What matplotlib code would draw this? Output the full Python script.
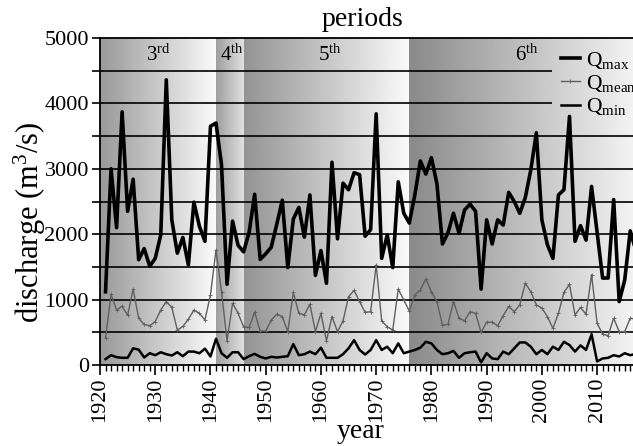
import numpy as np
import matplotlib
matplotlib.use("Agg")
import matplotlib.pyplot as plt

plt.rcParams['font.family'] = ['Liberation Serif', 'DejaVu Serif']
plt.rcParams['mathtext.fontset'] = 'custom'
plt.rcParams['mathtext.rm'] = 'Liberation Serif'
plt.rcParams['mathtext.it'] = 'Liberation Serif:italic'

years = list(range(1921, 2018))

q_max = [1120, 3000, 2100, 3870, 2350, 2840, 1610, 1780, 1510, 1630,
         1990, 4360, 2220, 1710, 1950, 1530, 2490, 2120, 1890, 3650,
         3700, 3060, 1235, 2200, 1830, 1730, 2030, 2610, 1615, 1700,
         1800, 2150, 2520, 1490, 2230, 2410, 1955, 2600, 1370, 1750,
         1250, 3100, 1930, 2780, 2680, 2940, 2910, 1970, 2070, 3840,
         1630, 1990, 1490, 2800, 2320, 2170, 2600, 3120, 2920, 3170,
         2770, 1850, 2020, 2320, 2015, 2370, 2460, 2350, 1160, 2220,
         1850, 2220, 2140, 2640, 2500, 2320, 2560, 2985, 3550, 2220,
         1840, 1630, 2600, 2680, 3800, 1890, 2130, 1910, 2730, 2030,
         1330, 1330, 2530, 970, 1300, 2050, 1750]

q_mean = [410, 1080, 840, 900, 760, 1160, 715, 620, 600, 665,
          840, 970, 880, 535, 590, 700, 840, 790, 690, 1070,
          1760, 1120, 370, 945, 790, 585, 575, 810, 520, 520,
          685, 775, 740, 510, 1110, 790, 765, 930, 510, 790,
          370, 740, 510, 675, 1045, 1140, 970, 805, 815, 1530,
          675, 585, 535, 1160, 995, 825, 1070, 1150, 1315, 1120,
          970, 610, 620, 970, 715, 675, 815, 790, 500, 655,
          655, 600, 755, 895, 815, 920, 1250, 1120, 920, 870,
          740, 560, 790, 1110, 1235, 765, 880, 775, 1380, 640,
          470, 450, 715, 510, 510, 715, 700]

q_min = [90, 150, 120, 110, 110, 255, 235, 115, 180, 150,
         195, 165, 145, 195, 135, 205, 205, 180, 250, 130,
         400, 180, 110, 195, 195, 90, 135, 170, 125, 100,
         125, 115, 125, 135, 320, 150, 165, 205, 165, 265,
         110, 110, 110, 165, 255, 380, 230, 160, 230, 380,
         230, 280, 180, 330, 180, 205, 230, 265, 355, 330,
         230, 165, 180, 215, 110, 180, 195, 205, 40, 180,
         100, 90, 205, 165, 255, 345, 345, 280, 165, 230,
         165, 280, 230, 355, 305, 205, 300, 230, 470, 55,
         100, 110, 150, 130, 180, 150, 170]

period_labels = ['3', '4', '5', '6']
period_sups = ['rd', 'th', 'th', 'th']
period_bounds = [1920, 1941, 1946, 1976, 2016.5]
period_label_x = [1930.5, 1943.8, 1961.6, 1997.3]
period_shades = [(0.60, 0.98), (0.62, 0.88), (0.58, 0.98), (0.54, 0.95)]

XMIN, XMAX = 1920, 2016.5

fig = plt.figure(figsize=(6.33, 4.46), dpi=100)
ax = fig.add_axes([100 / 633, (446 - 365) / 446, 533 / 633, 327 / 446])

# background gradients per period
for i in range(4):
    x0, x1 = period_bounds[i], period_bounds[i + 1]
    c0, c1 = period_shades[i]
    grad = np.linspace(c0, c1, 256).reshape(1, -1)
    ax.imshow(grad, extent=[x0, x1, 0, 5000], aspect='auto', cmap='gray',
              vmin=0, vmax=1, zorder=0, interpolation='bilinear')

# horizontal lines
for v in range(500, 5000, 500):
    if v >= 4000:
        ax.hlines(v, XMIN, 2001.8, color='black', lw=1.2, zorder=1)
    else:
        ax.axhline(v, color='black', lw=1.2, zorder=1)

l1, = ax.plot(years, q_max, color='black', lw=2.6, zorder=4, label=r'Q$_{\mathrm{max}}$')
l2, = ax.plot(years, q_mean, color='#606060', lw=1.0, marker='+', ms=2.5, mew=0.6,
              zorder=3, label=r'Q$_{\mathrm{mean}}$')
l3, = ax.plot(years, q_min, color='black', lw=1.8, zorder=3, label=r'Q$_{\mathrm{min}}$')

for lab, sup, xx in zip(period_labels, period_sups, period_label_x):
    ax.text(xx, 4740, lab + r'$^{\mathrm{' + sup + '}}$', ha='center', va='center',
            fontsize=15, zorder=5)

ax.set_xlim(XMIN, XMAX)
ax.set_ylim(0, 5000)

ax.set_xticks(range(1920, 2017, 10))
ax.set_xticks(range(1920, 2017, 1), minor=True)
ax.set_yticks(range(0, 5001, 1000))
ax.set_yticks(range(0, 5001, 500), minor=True)
ax.tick_params(axis='x', which='major', direction='out', length=7, width=1.2,
               labelsize=16, labelrotation=90, pad=2)
ax.tick_params(axis='x', which='minor', direction='out', length=4, width=1.0)
ax.tick_params(axis='y', which='major', direction='out', length=6, width=1.2,
               labelsize=16, pad=2)
ax.tick_params(axis='y', which='minor', direction='out', length=6, width=1.2)
ax.spines['right'].set_visible(False)
for s in ['left', 'top', 'bottom']:
    ax.spines[s].set_linewidth(1.3)

leg = ax.legend(handles=[l1, l2, l3], loc='upper left',
                bbox_to_anchor=(0.848, 0.99), frameon=False, fontsize=15.5,
                handlelength=0.9, handletextpad=0.3, labelspacing=0.1,
                borderaxespad=0.0)

fig.text(362 / 633, 1 - 20 / 446, 'periods', ha='center', va='center', fontsize=20)
fig.text(30 / 633, 1 - 222 / 446, 'discharge (m$^3$/s)', ha='center', va='center',
         rotation=90, fontsize=22)
fig.text(361 / 633, 1 - 432 / 446, 'year', ha='center', va='center', fontsize=20)

fig.savefig('out.png', dpi=100)
